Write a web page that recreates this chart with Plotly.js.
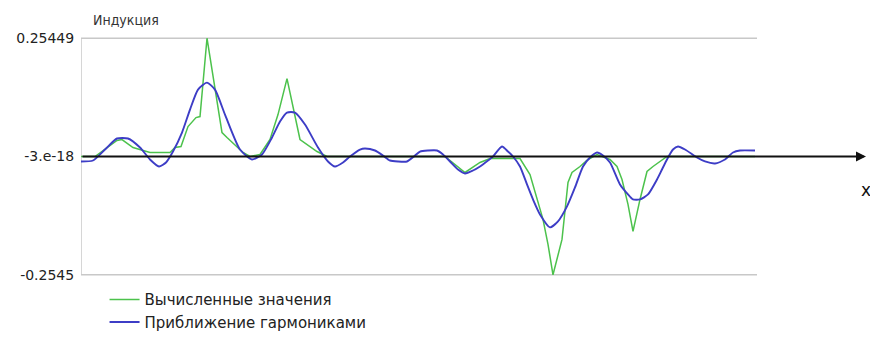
<!DOCTYPE html>
<html>
<head>
<meta charset="utf-8">
<script src="https://cdn.plot.ly/plotly-3.0.1.min.js"></script>
<style>
  html, body { margin: 0; padding: 0; background: #ffffff; }
  #chart { width: 870px; height: 345px; }
</style>
</head>
<body>
<div id="chart"></div>
<script>
// Position along the measuring line (arbitrary units)
const xCalc = [0, 14, 36, 41, 52, 69, 89, 94, 100, 107, 115, 119, 126, 141, 146, 162, 169, 179, 189, 197, 206, 219, 236, 246, 364, 384, 399, 409, 439, 449, 462, 467, 472, 481, 487, 491, 499, 507, 516, 529, 536, 541, 547, 552, 559, 566, 572, 582, 586, 674];
// Computed induction values
const yCalc = [0, 0, 0.0344, 0.0365, 0.0193, 0.0086, 0.0086, 0.0193, 0.0215, 0.0644, 0.0838, 0.0859, 0.25449, 0.0515, 0.0408, 0.0086, 0, 0.0043, 0.0365, 0.0902, 0.1675, 0.0365, 0.0107, 0, 0, -0.0344, -0.0129, -0.0043, -0.0043, -0.0387, -0.1353, -0.1890, -0.2545, -0.1783, -0.0558, -0.0344, -0.0215, -0.0064, 0.0043, -0.0064, -0.0215, -0.0494, -0.1031, -0.1611, -0.0924, -0.0322, -0.0215, -0.0064, 0, 0];

// Harmonic (Fourier) approximation
const xHarm = [0, 12, 24, 36, 47, 59, 69, 78, 85, 92, 101, 109, 117, 126, 134, 144, 159, 171, 181, 191, 199, 206, 214, 224, 237, 247, 254, 262, 269, 279, 284, 294, 302, 309, 317, 326, 333, 339, 347, 356, 362, 369, 377, 384, 392, 399, 407, 412, 421, 427, 432, 439, 446, 452, 459, 469, 477, 486, 494, 502, 509, 516, 522, 529, 539, 547, 552, 559, 567, 576, 581, 586, 592, 597, 604, 616, 624, 634, 644, 652, 659, 674];
const yHarm = [-0.0107, -0.0086, 0.0150, 0.0387, 0.0387, 0.0193, -0.0064, -0.0215, -0.0129, 0.0107, 0.0515, 0.1009, 0.1439, 0.1589, 0.1439, 0.0902, 0.0150, -0.0064, 0.0043, 0.0408, 0.0752, 0.0945, 0.0945, 0.0687, 0.0193, -0.0107, -0.0215, -0.0129, 0, 0.0150, 0.0172, 0.0129, 0.0021, -0.0086, -0.0107, -0.0107, 0, 0.0107, 0.0129, 0.0129, 0.0043, -0.0107, -0.0279, -0.0365, -0.0301, -0.0215, -0.0086, 0, 0.0215, 0.0107, 0, -0.0215, -0.0601, -0.0923, -0.1246, -0.1525, -0.1396, -0.1074, -0.0666, -0.0215, -0.0021, 0.0086, 0.0021, -0.0129, -0.0601, -0.0816, -0.0924, -0.0924, -0.0816, -0.0494, -0.0279, -0.0064, 0.0150, 0.0215, 0.0150, -0.0021, -0.0107, -0.0150, -0.0064, 0.0086, 0.0129, 0.0129];

// Y tick marks and their labels
const yTickVals = [0.25449, 0, -0.2545];
const yTickText = ['0.25449', '-3.e-18', '-0.2545'];

const seriesNames = ['Вычисленные значения', 'Приближение гармониками'];

const FONT = 'DejaVu Sans, sans-serif';
const FONT_NARROW = 'DejaVu Sans Condensed, DejaVu Sans, sans-serif';
const xEnd = Math.max(...xHarm);
const xAxisEnd = 785;

const traces = [
  {
    x: xCalc, y: yCalc, name: seriesNames[0],
    type: 'scatter', mode: 'lines',
    line: { color: '#4cc24c', width: 1.5 }
  },
  {
    x: xHarm, y: yHarm, name: seriesNames[1],
    type: 'scatter', mode: 'lines',
    line: { color: '#3d3dc6', width: 1.9, shape: 'spline', smoothing: 0.6 }
  }
];

const layout = {
  width: 870, height: 345,
  margin: { l: 81, r: 4, t: 31, b: 63 },
  paper_bgcolor: '#ffffff',
  plot_bgcolor: '#ffffff',
  font: { family: FONT, size: 14, color: '#222222' },
  title: {
    text: 'Индукция',
    font: { family: FONT_NARROW, size: 14, color: '#333333' },
    xref: 'container', yref: 'container',
    x: 93 / 870, xanchor: 'left',
    y: 1 - 20 / 345, yanchor: 'middle'
  },
  xaxis: {
    range: [0, xAxisEnd],
    showgrid: false, zeroline: false, showline: false,
    showticklabels: false, ticks: ''
  },
  yaxis: {
    range: [-0.27, 0.27],
    showgrid: false, zeroline: false, showline: false,
    tickvals: yTickVals, ticktext: yTickText,
    ticks: 'outside', ticklen: 0, ticklabelstandoff: 3,
    tickfont: { family: FONT, size: 14, color: '#222222' }
  },
  shapes: [
    { type: 'line', xref: 'x', yref: 'y', x0: 0, x1: xEnd + 2, y0: yTickVals[0], y1: yTickVals[0],
      line: { color: '#c8c8c8', width: 1.5 }, layer: 'below' },
    { type: 'line', xref: 'x', yref: 'y', x0: 0, x1: xEnd + 2, y0: yTickVals[2], y1: yTickVals[2],
      line: { color: '#c8c8c8', width: 1.5 }, layer: 'below' },
    { type: 'line', xref: 'x', yref: 'y', x0: 0, x1: 0, y0: yTickVals[2], y1: yTickVals[0],
      line: { color: '#c8c8c8', width: 1.5 }, layer: 'below' }
  ],
  annotations: [
    // horizontal x axis drawn as an arrow through zero
    { xref: 'x', yref: 'y', axref: 'x', ayref: 'y',
      x: xAxisEnd, y: 0, ax: 0, ay: 0, text: '',
      showarrow: true, arrowhead: 2, arrowsize: 1, arrowwidth: 2, arrowcolor: '#111111' },
    { xref: 'paper', yref: 'y', x: 1, y: 0, yshift: -33,
      xanchor: 'center', yanchor: 'middle', showarrow: false,
      text: 'x', font: { family: FONT, size: 17, color: '#111111' } }
  ],
  showlegend: true,
  legend: {
    x: 0.03, xanchor: 'left',
    y: -0.005, yanchor: 'top',
    orientation: 'v',
    bgcolor: 'rgba(0,0,0,0)',
    font: { family: FONT, size: 15, color: '#222222' },
    tracegroupgap: 0, itemwidth: 30
  }
};

Plotly.newPlot('chart', traces, layout, { staticPlot: true, displayModeBar: false });
</script>
</body>
</html>
